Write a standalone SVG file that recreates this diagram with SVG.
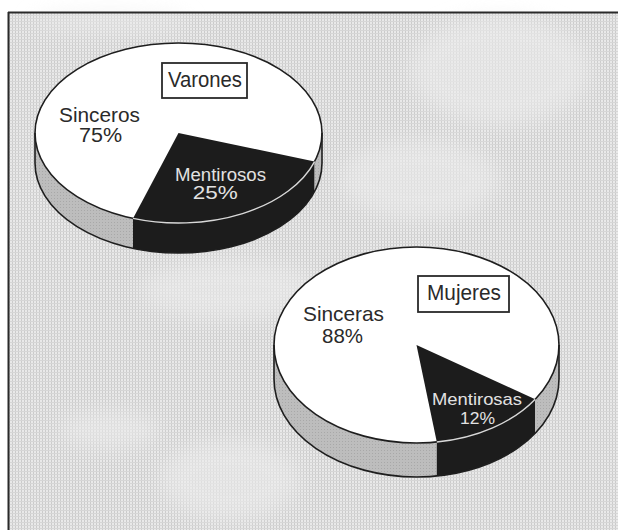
<svg xmlns="http://www.w3.org/2000/svg" width="618" height="530" viewBox="0 0 618 530">
  <defs>
    <pattern id="halftone" width="3" height="3" patternUnits="userSpaceOnUse">
      <rect width="3" height="3" fill="#e9e9e9"/>
      <rect width="1" height="3" fill="#cbcbcb"/>
      <rect width="3" height="1" fill="#d6d6d6"/>
    </pattern>
    <pattern id="sidegray" width="3" height="3" patternUnits="userSpaceOnUse">
      <rect width="3" height="3" fill="#bdbdbd"/>
      <rect width="1" height="1" fill="#a8a8a8"/>
    </pattern>
    <filter id="soft" x="-50%" y="-50%" width="200%" height="200%">
      <feGaussianBlur stdDeviation="10"/>
    </filter>
  </defs>
  <style>
    .outline { fill: none; stroke: #1e1e1e; stroke-width: 1.6; }
    .white { fill: #ffffff; }
    .black { fill: #1c1c1c; }
    .side { fill: url(#sidegray); }
    .rim { fill: none; stroke: #d8d8d8; stroke-width: 1.4; }
    .lbl { font-family: "Liberation Sans", Arial, sans-serif; fill: #2a2a2a; text-anchor: middle; }
    .lbl-inv { font-family: "Liberation Sans", Arial, sans-serif; fill: #e2e2e2; text-anchor: middle; }
    .box { fill: #ffffff; stroke: #2a2a2a; stroke-width: 1.8; }
  </style>

  <g id="background">
    <rect x="0" y="0" width="618" height="530" fill="#ffffff"/>
    <rect x="8" y="12" width="610" height="518" fill="url(#halftone)"/>
    <g filter="url(#soft)" fill="#ececec" opacity="0.6">
      <ellipse cx="500" cy="70" rx="90" ry="55"/>
      <ellipse cx="420" cy="180" rx="80" ry="40"/>
      <ellipse cx="230" cy="290" rx="90" ry="30"/>
      <ellipse cx="230" cy="480" rx="70" ry="40"/>
      <ellipse cx="110" cy="22" rx="80" ry="10"/>
      <ellipse cx="110" cy="430" rx="50" ry="18"/>
    </g>
    <line x1="8" y1="12.5" x2="618" y2="12.5" stroke="#2a2a2a" stroke-width="2"/>
    <line x1="8.5" y1="12" x2="8.5" y2="530" stroke="#2a2a2a" stroke-width="2"/>
  </g>

  <g id="pie-varones">
    <path class="side" d="M133,218.4 A143.5,90 0 0,1 35,133 L35,163 A143.5,90 0 0,0 133,248.4 Z"/>
    <path class="black" d="M314.6,161.6 A143.5,90 0 0,1 133,218.4 L133,248.4 A143.5,90 0 0,0 314.6,191.6 Z"/>
    <path class="side" d="M322,133 A143.5,90 0 0,1 314.6,161.6 L314.6,191.6 A143.5,90 0 0,0 322,163 Z"/>
    <ellipse class="white" cx="178.5" cy="133" rx="143.5" ry="90"/>
    <path class="black" d="M178.5,133 L314.6,161.6 A143.5,90 0 0,1 133,218.4 Z"/>
    <ellipse class="outline" cx="178.5" cy="133" rx="143.5" ry="90"/>
    <path class="outline" d="M35,133 L35,163 A143.5,90 0 0,0 322,163 L322,133"/>
    <path class="rim" d="M314.6,161.6 A143.5,90 0 0,1 133,218.4"/>
    <rect class="box" x="162" y="63" width="85" height="35"/>
    <text class="lbl" x="205" y="87.3" font-size="22" textLength="74" lengthAdjust="spacingAndGlyphs">Varones</text>
    <text class="lbl" x="99.5" y="121.7" font-size="21" textLength="81" lengthAdjust="spacingAndGlyphs">Sinceros</text>
    <text class="lbl" x="100.5" y="141.7" font-size="20" textLength="43" lengthAdjust="spacingAndGlyphs">75%</text>
    <text class="lbl-inv" x="220.5" y="180.7" font-size="18" textLength="91" lengthAdjust="spacingAndGlyphs">Mentirosos</text>
    <text class="lbl-inv" x="215.3" y="199.3" font-size="18" textLength="45" lengthAdjust="spacingAndGlyphs">25%</text>
  </g>

  <g id="pie-mujeres">
    <path class="side" d="M436.8,442 A142.5,98 0 0,1 274,345 L274,379 A142.5,98 0 0,0 436.8,476 Z"/>
    <path class="black" d="M535.2,399.2 A142.5,98 0 0,1 436.8,442 L436.8,476 A142.5,98 0 0,0 535.2,433.2 Z"/>
    <path class="side" d="M559,345 A142.5,98 0 0,1 535.2,399.2 L535.2,433.2 A142.5,98 0 0,0 559,379 Z"/>
    <ellipse class="white" cx="416.5" cy="345" rx="142.5" ry="98"/>
    <path class="black" d="M416.5,345 L535.2,399.2 A142.5,98 0 0,1 436.8,442 Z"/>
    <ellipse class="outline" cx="416.5" cy="345" rx="142.5" ry="98"/>
    <path class="outline" d="M274,345 L274,379 A142.5,98 0 0,0 559,379 L559,345"/>
    <path class="rim" d="M535.2,399.2 A142.5,98 0 0,1 436.8,442"/>
    <rect class="box" x="418" y="276" width="91" height="36"/>
    <text class="lbl" x="464" y="300" font-size="22" textLength="74" lengthAdjust="spacingAndGlyphs">Mujeres</text>
    <text class="lbl" x="343.5" y="321" font-size="21" textLength="81" lengthAdjust="spacingAndGlyphs">Sinceras</text>
    <text class="lbl" x="342.5" y="342.5" font-size="20" textLength="41" lengthAdjust="spacingAndGlyphs">88%</text>
    <text class="lbl-inv" x="477" y="404.5" font-size="17" textLength="90" lengthAdjust="spacingAndGlyphs">Mentirosas</text>
    <text class="lbl-inv" x="477.5" y="423.5" font-size="17" textLength="35" lengthAdjust="spacingAndGlyphs">12%</text>
  </g>
</svg>
